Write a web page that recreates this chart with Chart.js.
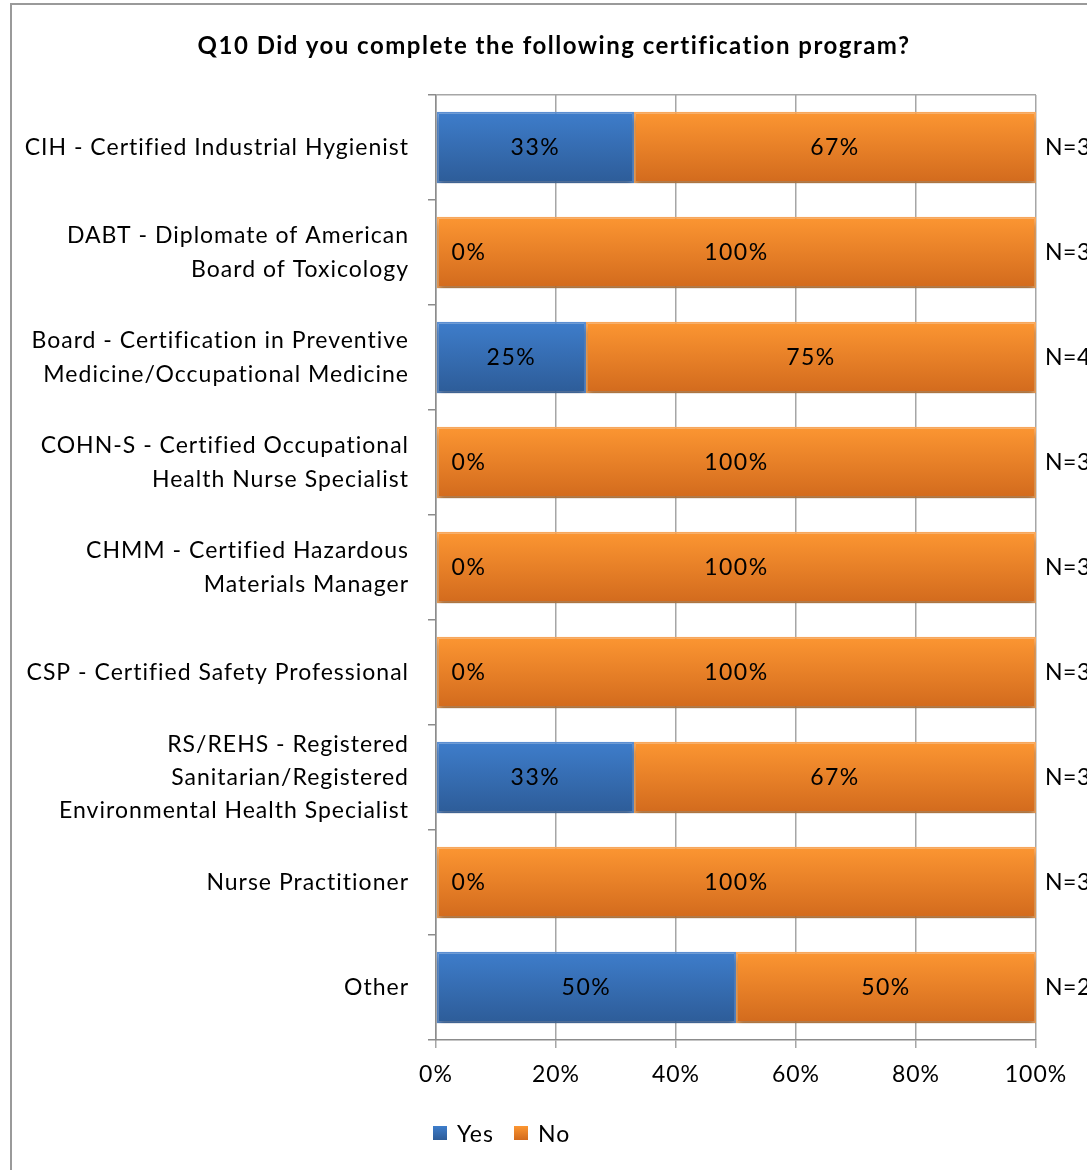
<!DOCTYPE html>
<html>
<head>
<meta charset="utf-8">
<script src="https://cdn.jsdelivr.net/npm/chart.js@4.4.1/dist/chart.umd.min.js"></script>
<style>
    html, body { margin: 0; padding: 0; background: #fff; }
    #wrap { position: relative; width: 1087px; height: 1170px; overflow: hidden; }
    #frame { position: absolute; left: 10px; top: 3px; width: 1200px; height: 1300px;
             border-left: 2px solid #9a9a9a; border-top: 2px solid #9a9a9a; }
    #chart { position: absolute; left: 0; top: 0; }
    #title { position: absolute; left: 0; top: 30px; width: 1108px; text-align: center;
             font: bold 24px Lato, sans-serif; letter-spacing: 1.5px; color: #000; }
    #legend { position: absolute; top: 1119px; left: 433px; font: 23px Lato, sans-serif; color: #000;
              letter-spacing: 1px; display: flex; align-items: center; }
    #legend span.box { display: inline-block; width: 14px; height: 14px; margin-right: 10px; }
    #legend span.lbl { margin-right: 20px; }
</style>
</head>
<body>
<div id="wrap">
    <div id="frame"></div>
    <canvas id="chart" width="1087" height="1170"></canvas>
    <div id="title">Q10 Did you complete the following certification program?</div>
    <div id="legend"></div>
</div>
<script>
// Chart data
const categories = [
    ['CIH - Certified Industrial Hygienist'],
    ['DABT - Diplomate of American', 'Board of Toxicology'],
    ['Board - Certification in Preventive', 'Medicine/Occupational Medicine'],
    ['COHN-S - Certified Occupational', 'Health Nurse Specialist'],
    ['CHMM - Certified Hazardous', 'Materials Manager'],
    ['CSP - Certified Safety Professional'],
    ['RS/REHS - Registered', 'Sanitarian/Registered', 'Environmental Health Specialist'],
    ['Nurse Practitioner'],
    ['Other']
];
const yesValues = [33, 0, 25, 0, 0, 0, 33, 0, 50];
const noValues = [67, 100, 75, 100, 100, 100, 67, 100, 50];
const nCounts = [3, 3, 4, 3, 3, 3, 3, 3, 2];
const xTicks = [0, 20, 40, 60, 80, 100];

const FONT = 'Lato, sans-serif';
const BAR_PCT = 0.68;

// vertical gradient fitted to each bar
function barGradient(top, bottom) {
    return (context) => {
        const chart = context.chart;
        const y = chart.scales.y;
        if (!chart.chartArea || !y || context.dataIndex === undefined) return top;
        const center = y.getPixelForValue(context.dataIndex);
        const half = (y.height / categories.length) * BAR_PCT / 2;
        const g = chart.ctx.createLinearGradient(0, center - half, 0, center + half);
        g.addColorStop(0, top);
        g.addColorStop(1, bottom);
        return g;
    };
}

// wider text spacing, closer to the original font
const textSpacing = {
    id: 'textSpacing',
    beforeDraw(chart) {
        chart.ctx.letterSpacing = '1px';
    }
};

// shadow under bars
const barShadow = {
    id: 'barShadow',
    beforeDatasetsDraw(chart) {
        const ctx = chart.ctx;
        ctx.save();
        ctx.shadowColor = 'rgba(0, 0, 0, 0.35)';
        ctx.shadowOffsetY = 5;
        ctx.shadowBlur = 6;
    },
    afterDatasetsDraw(chart) {
        chart.ctx.restore();
    }
};

// percent labels inside the bars and N= on the right
const valueLabels = {
    id: 'valueLabels',
    afterDatasetsDraw(chart) {
        const ctx = chart.ctx;
        ctx.save();
        ctx.font = '23px ' + FONT;
        ctx.letterSpacing = '1.5px';
        ctx.fillStyle = '#000';
        ctx.textBaseline = 'middle';
        ctx.textAlign = 'center';
        chart.data.datasets.forEach((ds, di) => {
            const meta = chart.getDatasetMeta(di);
            meta.data.forEach((bar, i) => {
                const v = ds.data[i];
                let x = (bar.base + bar.x) / 2;
                if (v === 0) x = bar.base + 33;
                ctx.fillText(v + '%', x, bar.y);
            });
        });
        ctx.textAlign = 'left';
        ctx.letterSpacing = '0.5px';
        const meta0 = chart.getDatasetMeta(0);
        meta0.data.forEach((bar, i) => {
            ctx.fillText('N=' + nCounts[i], chart.chartArea.right + 9, bar.y);
        });
        ctx.restore();
    }
};

const blueTop = '#3e7dcb', blueBottom = '#2d5c98';
const orangeTop = '#fc9632', orangeBottom = '#d26a1d';

new Chart(document.getElementById('chart'), {
    type: 'bar',
    data: {
        labels: categories,
        datasets: [{
            label: 'Yes',
            data: yesValues,
            backgroundColor: barGradient(blueTop, blueBottom),
            borderColor: '#5b8fd3',
            borderWidth: 2,
            borderSkipped: false,
            barPercentage: BAR_PCT,
            categoryPercentage: 1
        }, {
            label: 'No',
            data: noValues,
            backgroundColor: barGradient(orangeTop, orangeBottom),
            borderColor: '#f9a85c',
            borderWidth: 2,
            borderSkipped: false,
            barPercentage: BAR_PCT,
            categoryPercentage: 1
        }]
    },
    options: {
        indexAxis: 'y',
        responsive: false,
        animation: false,
        layout: { padding: { left: 0, right: 51, top: 95, bottom: 0 } },
        plugins: {
            legend: { display: false },
            tooltip: { enabled: false }
        },
        scales: {
            x: {
                stacked: true,
                min: 0,
                max: 100,
                afterFit: (scale) => { scale.height = 130; },
                afterBuildTicks: (scale) => { scale.ticks = xTicks.map(v => ({ value: v })); },
                ticks: {
                    color: '#000',
                    font: { family: FONT, size: 23 },
                    padding: 13,
                    maxRotation: 0,
                    callback: (v) => v + '%'
                },
                grid: { color: '#a6a6a6', tickLength: 8, lineWidth: 1.5 },
                border: { color: '#8c8c8c', width: 1.5 }
            },
            y: {
                stacked: true,
                afterFit: (scale) => { scale.width = 436; },
                ticks: {
                    color: '#000',
                    font: { family: FONT, size: 23, lineHeight: 1.45 },
                    padding: 19
                },
                grid: {
                    offset: true,
                    tickLength: 8,
                    lineWidth: 1.5,
                    color: (ctx) => ctx.index === 0 ? '#a6a6a6' : 'transparent',
                    tickColor: '#8c8c8c'
                },
                border: { color: '#8c8c8c', width: 1.5 }
            }
        }
    },
    plugins: [textSpacing, barShadow, valueLabels]
});

// legend
const legend = document.getElementById('legend');
[['Yes', blueTop, blueBottom], ['No', orangeTop, orangeBottom]].forEach(([name, c1, c2]) => {
    const box = document.createElement('span');
    box.className = 'box';
    box.style.background = `linear-gradient(${c1}, ${c2})`;
    const lbl = document.createElement('span');
    lbl.className = 'lbl';
    lbl.textContent = name;
    legend.appendChild(box);
    legend.appendChild(lbl);
});
</script>
</body>
</html>
